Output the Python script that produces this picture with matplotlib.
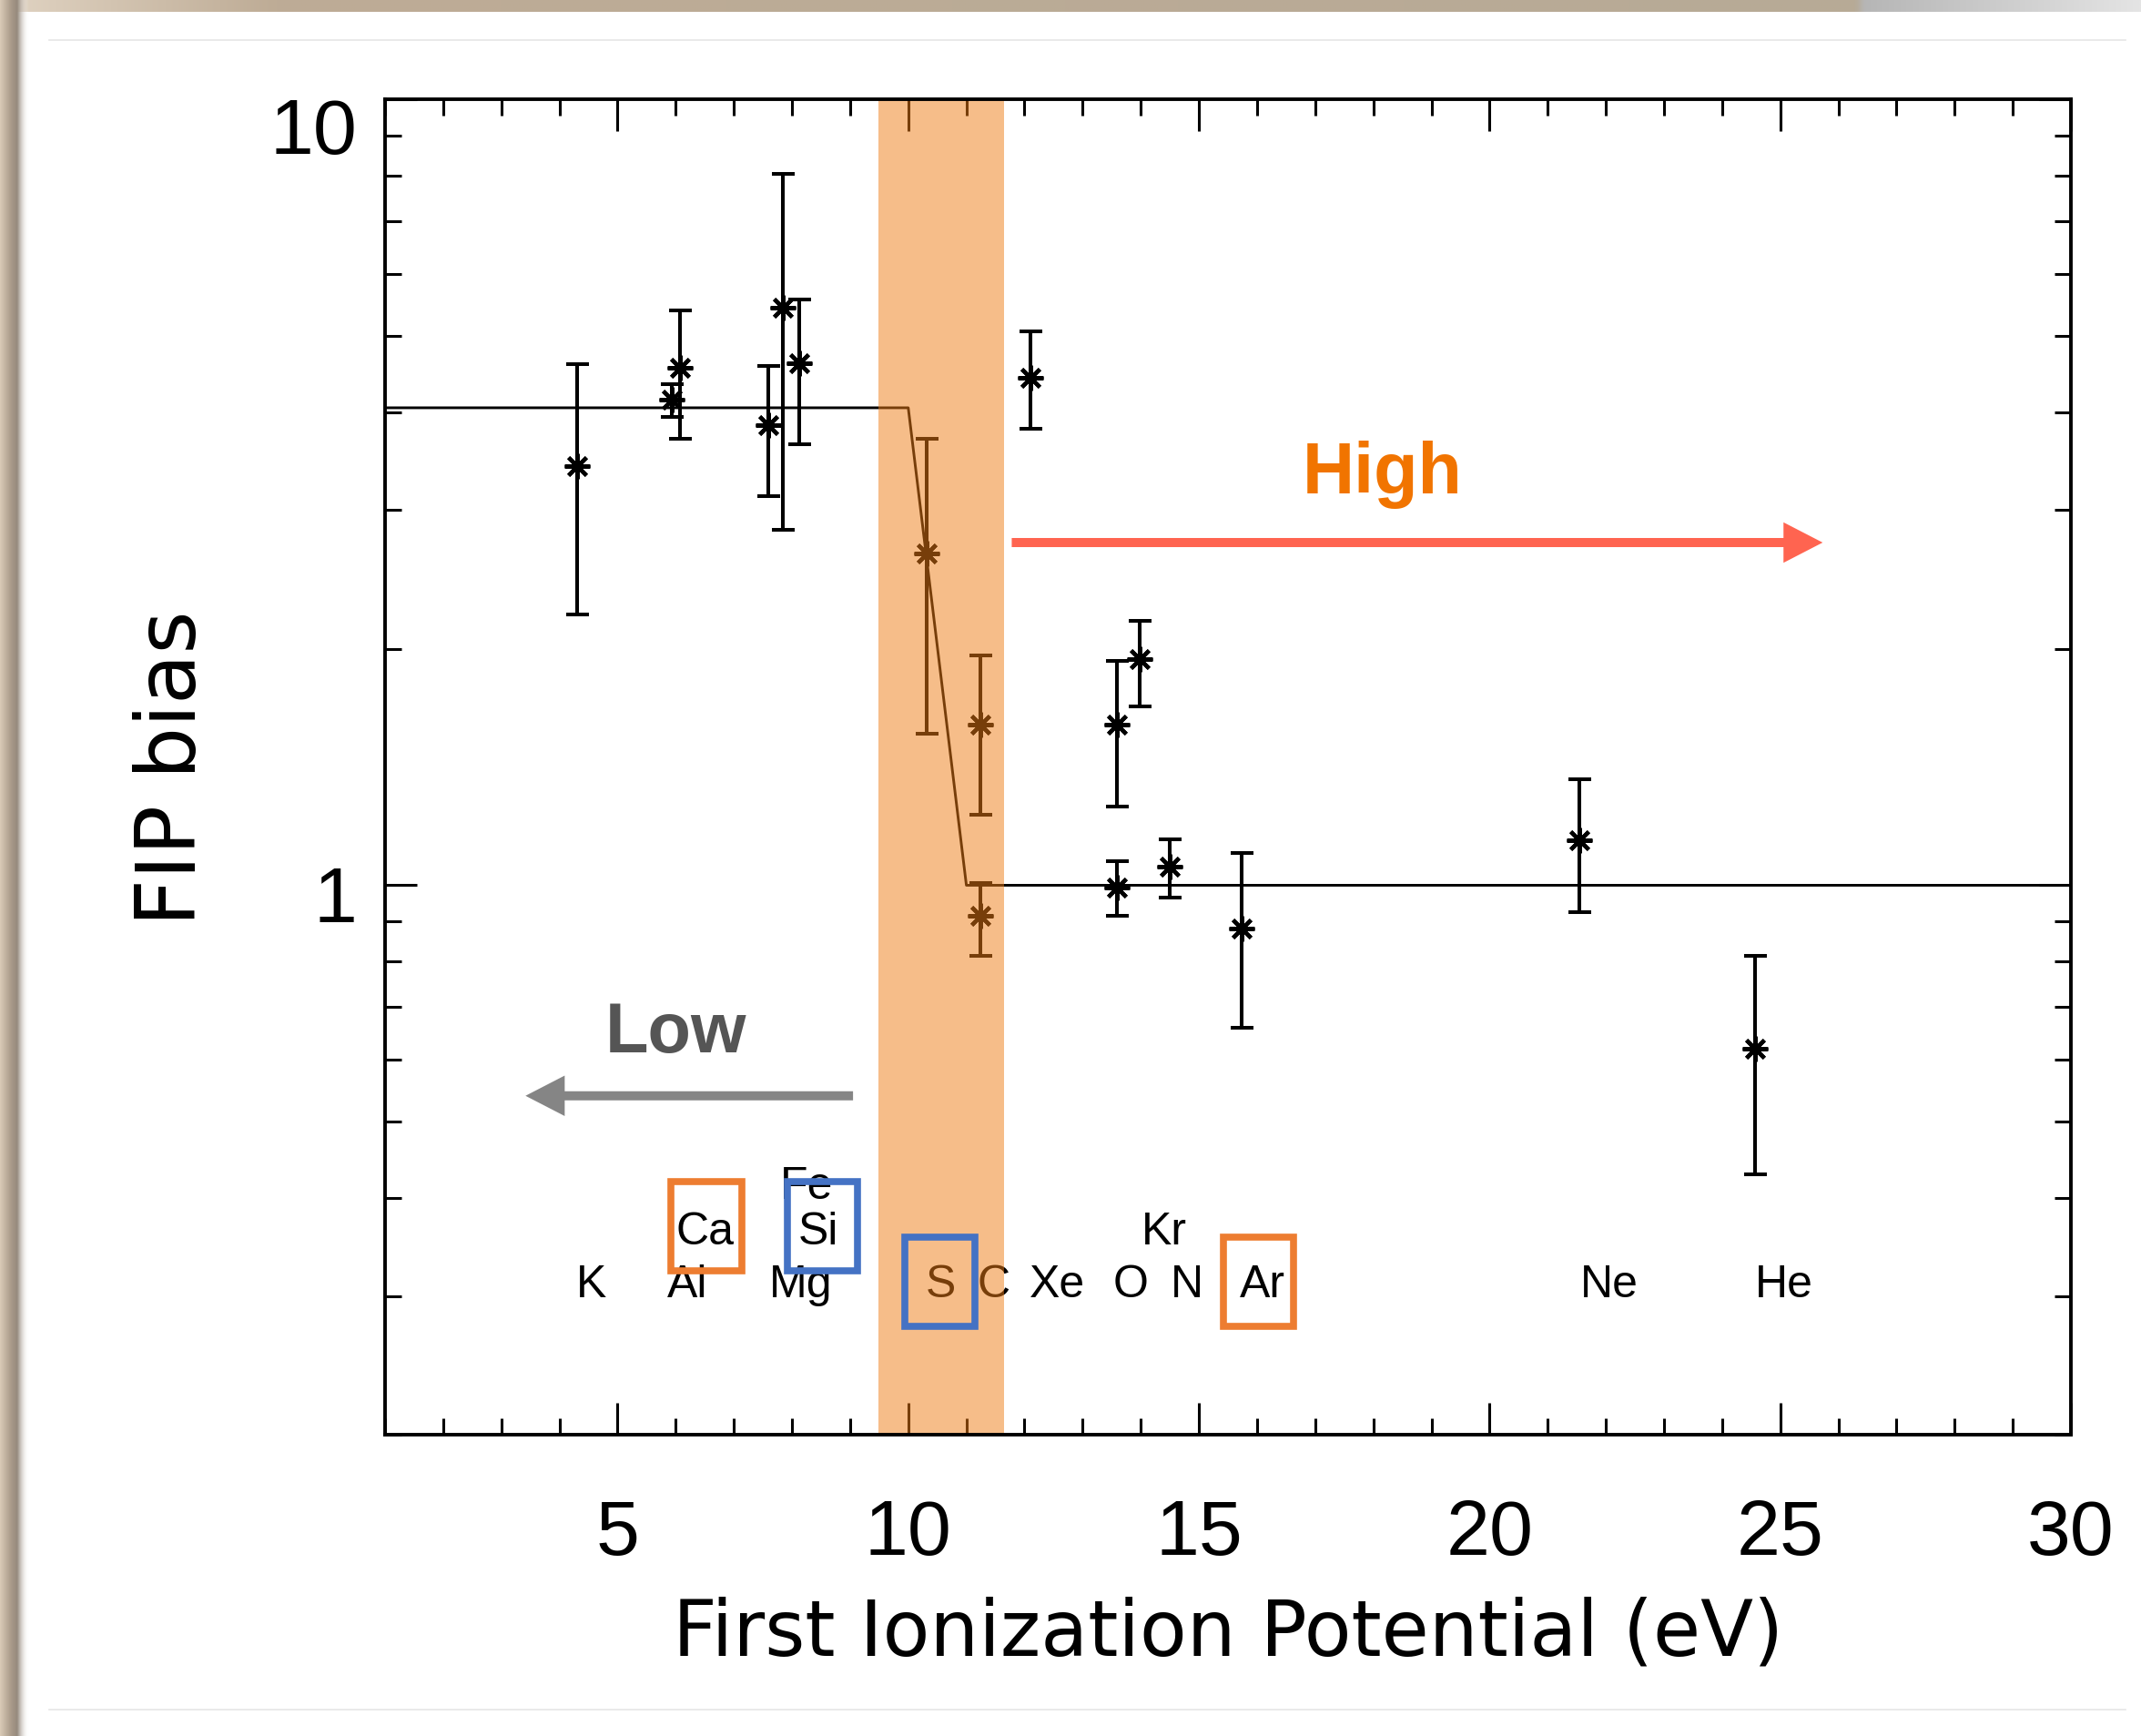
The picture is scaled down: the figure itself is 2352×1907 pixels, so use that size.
import matplotlib
matplotlib.use('Agg')
import numpy as np
import matplotlib.pyplot as plt
from matplotlib import font_manager
from matplotlib.patches import Rectangle, FancyArrowPatch
from matplotlib.transforms import ScaledTranslation
from matplotlib.ticker import MultipleLocator, LogLocator, NullFormatter

fip = [4.31, 5.94, 6.08, 7.60, 7.85, 8.12, 10.32, 11.24, 11.24, 12.10,
       13.59, 13.59, 13.98, 14.50, 15.73, 21.55, 24.57]
bias = [3.41, 4.15, 4.55, 3.85, 5.43, 4.62, 2.64, 1.60, 0.914, 4.42,
        1.60, 0.994, 1.94, 1.057, 0.882, 1.14, 0.62]
bias_lo = [2.21, 3.94, 3.70, 3.13, 2.83, 3.64, 1.56, 1.23, 0.814, 3.81,
           1.26, 0.914, 1.69, 0.965, 0.659, 0.924, 0.429]
bias_hi = [4.60, 4.34, 5.38, 4.58, 8.03, 5.56, 3.70, 1.96, 1.006, 5.06,
           1.93, 1.073, 2.17, 1.144, 1.10, 1.366, 0.814]

# step model
model_fip = [1, 10, 11, 30]
model_bias = [4.05, 4.05, 1.0, 1.0]

# element names written under the points
elements = ['K', 'Al', 'Mg', 'Ca', 'Si', 'Fe', 'S', 'C', 'Xe', 'O', 'N', 'Ar', 'Kr', 'Ne', 'He']
elem_x = [4.54, 6.20, 8.15, 6.51, 8.45, 8.25, 10.55, 11.47, 12.56, 13.82, 14.79, 16.10, 14.40, 22.06, 25.06]
elem_y = [0.30, 0.30, 0.30, 0.35, 0.35, 0.40, 0.30, 0.30, 0.30, 0.30, 0.30, 0.30, 0.35, 0.30, 0.30]

# highlighted elements: (x0, x1, y0, y1, colour)
boxes = [(5.92, 7.14, 0.323, 0.420, '#ED7D31'),
         (7.92, 9.13, 0.323, 0.420, '#4472C4'),
         (9.94, 11.15, 0.275, 0.357, '#4472C4'),
         (15.42, 16.62, 0.275, 0.357, '#ED7D31')]

band = (9.487, 11.644)

names = {f.name for f in font_manager.fontManager.ttflist}
narrow = 'Liberation Sans Narrow' if 'Liberation Sans Narrow' in names else 'Liberation Sans'
plt.rcParams['font.family'] = ['Liberation Sans', 'DejaVu Sans']

W, H = 2352, 1908
fig = plt.figure(figsize=(W / 100, H / 100), dpi=100)
fig.patch.set_facecolor('white')

# slide-like frame around the picture
bg = fig.add_axes([0, 0, 1, 1], zorder=-10)
bg.set_axis_off()
xs = np.linspace(0, W, 600)
top_cols = np.stack([np.interp(xs, [0, 300, 2040, 2050, W], c)
                     for c in ([225, 190, 183, 182, 228],
                               [212, 172, 170, 182, 228],
                               [195, 150, 150, 182, 228])], axis=-1) / 255
bg.imshow(top_cols[None, :, :], extent=(0, W, 14, 0), aspect='auto', interpolation='bilinear')
lx = np.linspace(0, 32, 64)
left_rgba = np.zeros((1, 64, 4))
left_rgba[0, :, 0] = np.interp(lx, [0, 12, 19, 32], [218, 170, 150, 255]) / 255
left_rgba[0, :, 1] = np.interp(lx, [0, 12, 19, 32], [203, 155, 138, 255]) / 255
left_rgba[0, :, 2] = np.interp(lx, [0, 12, 19, 32], [183, 138, 125, 255]) / 255
left_rgba[0, :, 3] = np.interp(lx, [0, 19, 32], [1, 1, 0])
bg.imshow(left_rgba, extent=(0, 32, H, 0), aspect='auto', interpolation='bilinear')
bg.plot([54, 2335], [45, 45], color='#E6E6E6', lw=1.2)
bg.plot([54, 2335], [1879, 1879], color='#E6E6E6', lw=1.2)
bg.set_xlim(0, W)
bg.set_ylim(H, 0)

ax = fig.add_axes([423 / W, 1 - 1577 / H, (2275 - 423) / W, (1577 - 110) / H])
ax.set_yscale('log')
ax.set_xlim(1, 30)
ax.set_ylim(0.2, 10)

b = np.array(bias)
yerr = [b - np.array(bias_lo), np.array(bias_hi) - b]
ax.errorbar(fip, bias, yerr=yerr, fmt='none', ecolor='black', elinewidth=2.9,
            capsize=9, capthick=2.9, zorder=2)
ax.plot(fip, bias, ls='none', marker=(8, 2, 0), ms=20, mew=3.0, color='black', zorder=2)
ax.plot(model_fip, model_bias, color='black', lw=2.1, zorder=2)

for name, x, y in zip(elements, elem_x, elem_y):
    ax.text(x, y, name, ha='center', va='baseline', fontsize=36, family=narrow,
            color='black', zorder=2.1)

ax.axvspan(band[0], band[1], color='#EF7D15', alpha=0.5, lw=0, zorder=2.2)

for x0, x1, y0, y1, col in boxes:
    ax.add_patch(Rectangle((x0, y0), x1 - x0, y1 - y0, fill=False, edgecolor=col,
                           lw=5.5, zorder=4))

ax.add_patch(FancyArrowPatch((11.78, 2.729), (25.73, 2.729), mutation_scale=1,
                             arrowstyle='simple,head_length=31,head_width=32,tail_width=7.2',
                             color='#FF6450', lw=0, shrinkA=0, shrinkB=0, zorder=4))
ax.add_patch(FancyArrowPatch((9.05, 0.5397), (3.416, 0.5397), mutation_scale=1,
                             arrowstyle='simple,head_length=31,head_width=32,tail_width=7.2',
                             color='#858585', lw=0, shrinkA=0, shrinkB=0, zorder=4))
ax.text(18.16, 3.16, 'High', ha='center', va='baseline', fontsize=57,
        fontweight='bold', color='#F17400', zorder=4)
ax.text(6.01, 0.615, 'Low', ha='center', va='baseline', fontsize=56,
        fontweight='bold', color='#555555', zorder=4)

ax.xaxis.set_major_locator(MultipleLocator(5))
ax.xaxis.set_minor_locator(MultipleLocator(1))
ax.set_yticks([1, 10], labels=['1', '10'])
ax.yaxis.set_minor_locator(LogLocator(base=10, subs=np.arange(2, 10)))
ax.yaxis.set_minor_formatter(NullFormatter())
ax.tick_params(which='both', direction='in', top=True, right=True, width=2.2, color='black')
ax.tick_params(which='major', length=25, labelsize=62)
ax.tick_params(which='minor', length=13)
ax.tick_params(axis='x', which='major', pad=50)
ax.tick_params(axis='y', which='major', pad=22)
for s in ax.spines.values():
    s.set_linewidth(2.8)

# the y labels sit a little below their ticks in the original
for lbl, dy in zip(ax.get_yticklabels(), [-6, -20]):
    lbl.set_transform(lbl.get_transform() + ScaledTranslation(0, dy / 72, fig.dpi_scale_trans))

ax.set_xlabel('First Ionization Potential (eV)', fontsize=61, family='DejaVu Sans')
ax.xaxis.set_label_coords(0.5, -0.12)
ax.set_ylabel('FIP bias', fontsize=65, family='DejaVu Sans')
ax.yaxis.set_label_coords(-0.102, 0.5)

fig.savefig('out.png', dpi=100)
